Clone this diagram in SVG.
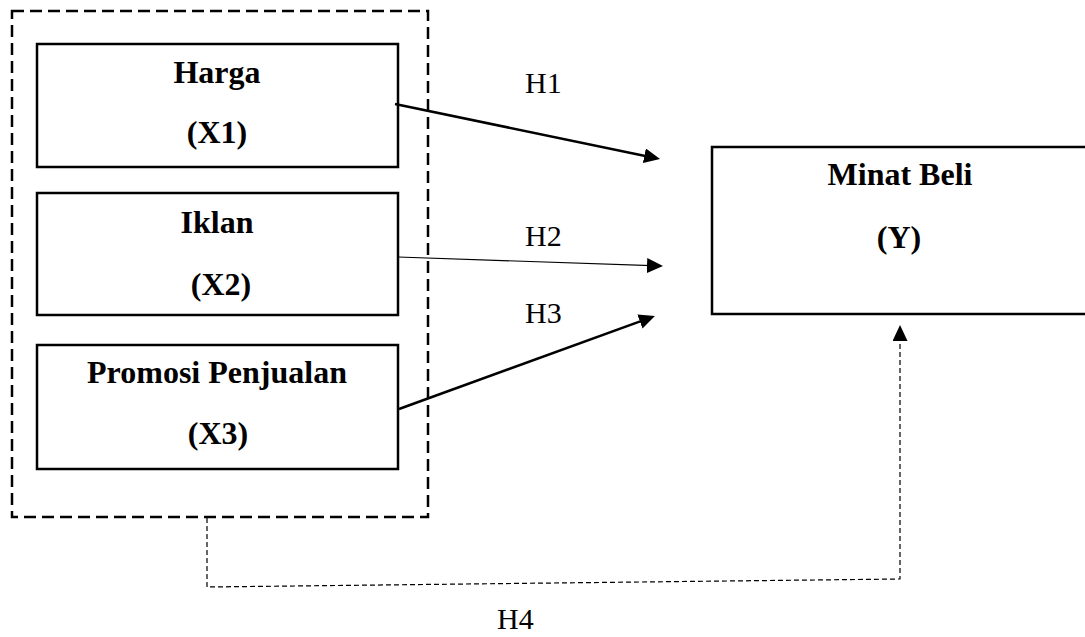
<svg xmlns="http://www.w3.org/2000/svg" width="1085" height="637" viewBox="0 0 1085 637">
<defs>
<style>
.box{fill:#fff;stroke:#000;stroke-width:2.5}
.b{font-family:"Liberation Serif","Times New Roman",serif;font-weight:bold;font-size:32px;text-anchor:middle;fill:#000}
.r{font-family:"Liberation Serif","Times New Roman",serif;font-size:30px;fill:#000}
.ln{fill:none;stroke:#000}
</style>
<marker id="ah" markerUnits="userSpaceOnUse" markerWidth="18" markerHeight="16" refX="12" refY="7.5" orient="auto">
<path d="M0,0 L16,7.5 L0,15 z" fill="#000"/>
</marker>
</defs>
<rect width="1085" height="637" fill="#fff"/>
<g id="group-x">
<rect x="12" y="11" width="416" height="506" fill="none" stroke="#000" stroke-width="2.5" stroke-dasharray="12 6"/>
</g>
<g id="harga">
<rect class="box" x="37" y="44" width="361" height="123"/>
<text class="b" x="217" y="83">Harga</text>
<text class="b" x="217" y="143">(X1)</text>
</g>
<g id="iklan">
<rect class="box" x="37" y="193" width="361" height="122"/>
<text class="b" x="217" y="233">Iklan</text>
<text class="b" x="221" y="295">(X2)</text>
</g>
<g id="promosi">
<rect class="box" x="37" y="345" width="361" height="124"/>
<text class="b" x="217" y="383">Promosi Penjualan</text>
<text class="b" x="218" y="444">(X3)</text>
</g>
<g id="minat">
<rect class="box" x="712" y="147" width="400" height="167"/>
<text class="b" x="900" y="185">Minat Beli</text>
<text class="b" x="899" y="248">(Y)</text>
</g>
<g id="connectors">
<line class="ln" x1="395" y1="104" x2="656.1" y2="158.2" stroke-width="2.5" marker-end="url(#ah)"/>
<line class="ln" x1="398" y1="257" x2="659" y2="265.9" stroke-width="1.2" marker-end="url(#ah)"/>
<line class="ln" x1="399" y1="409" x2="651.2" y2="317.4" stroke-width="2.5" marker-end="url(#ah)"/>
<path class="ln" d="M207,518 L207,587 L900,579 L900,329" stroke-width="1.2" stroke-dasharray="5 3" marker-end="url(#ah)"/>
<text class="r" x="525" y="93">H1</text>
<text class="r" x="525" y="246">H2</text>
<text class="r" x="525" y="323">H3</text>
<text class="r" x="497" y="629">H4</text>
</g>
</svg>
